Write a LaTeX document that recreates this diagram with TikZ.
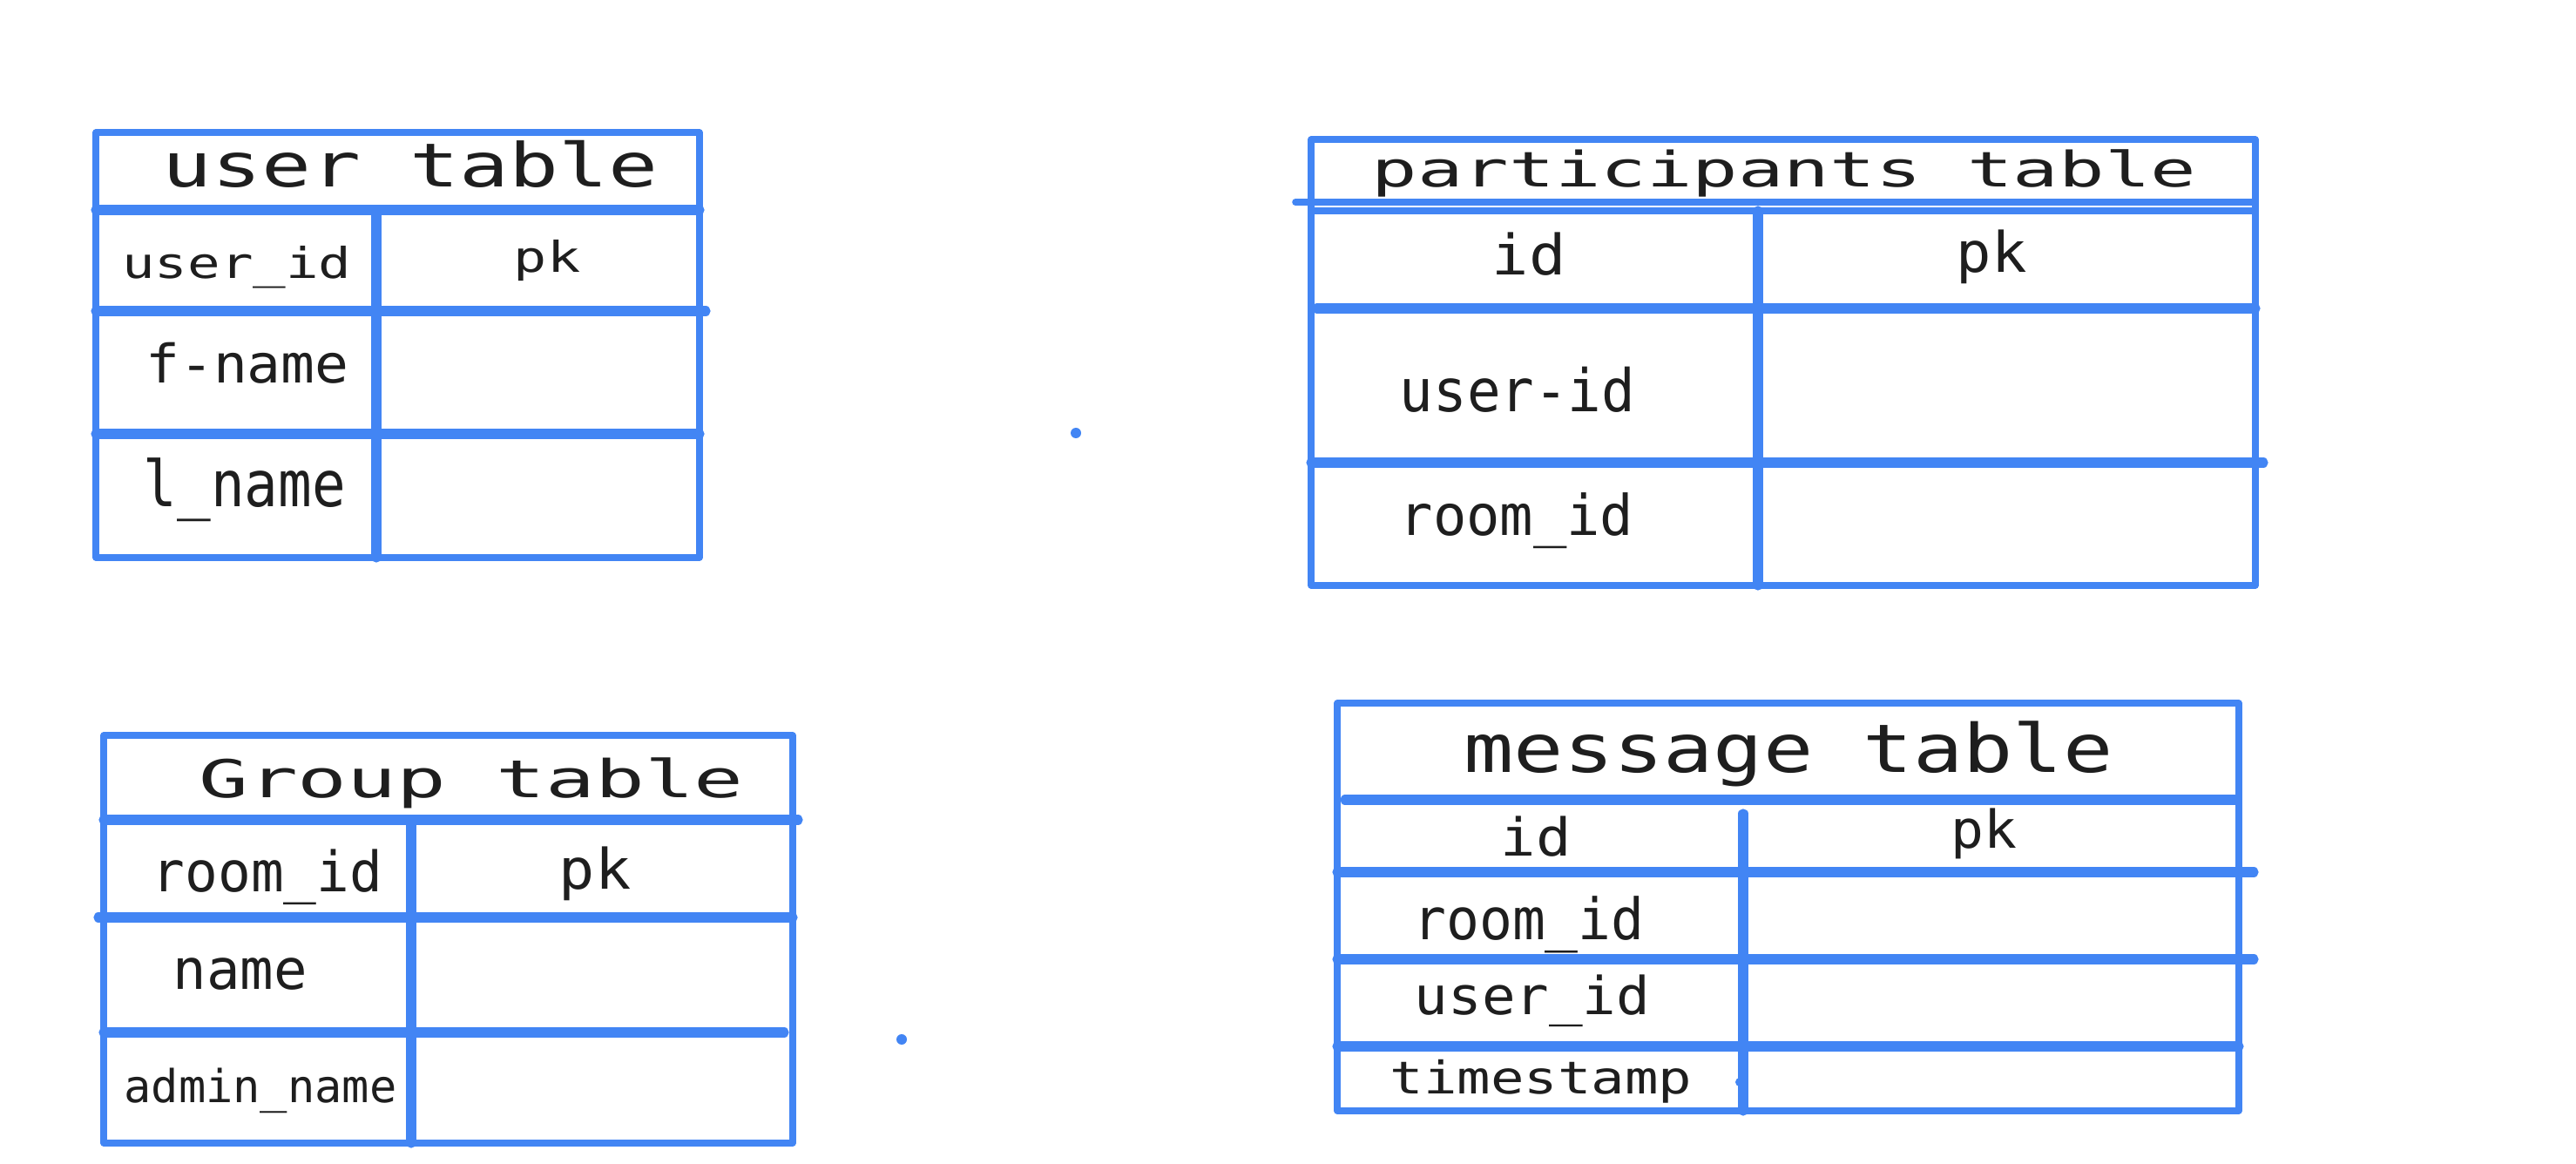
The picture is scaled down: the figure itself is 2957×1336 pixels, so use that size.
\documentclass[tikz,border=0pt]{standalone}
\usepackage{fontspec}
\usepackage{graphicx}
\newfontfamily\dvm{DejaVu Sans Mono}
\definecolor{gblue}{HTML}{4285F4}
\definecolor{inkc}{HTML}{1E1E1E}
\newcommand\mytxt[3]{\scalebox{#2}[1]{\fontsize{#1pt}{#1pt}\selectfont #3}}
\begin{document}
\begin{tikzpicture}[x=0.25pt,y=-0.25pt,
  border/.style={draw=gblue,line width=1.8pt,line join=round},
  divider/.style={draw=gblue,line width=2.8pt,line cap=round},
  thindiv/.style={draw=gblue,line width=1.9pt,line cap=round},
  lbl/.style={anchor=base,inner sep=0pt,text=inkc,font=\dvm},
  blob/.style={fill=gblue}]
\fill[white] (0,0) rectangle (2957,1336);
\useasboundingbox (0,0) rectangle (2957,1336);

% ---------- user table ----------
\draw[border] (110,152) rectangle (803,640);
\draw[divider] (110,241) -- (803,241);
\draw[divider] (110,357) -- (810,357);
\draw[divider] (110,498) -- (803,498);
\draw[divider] (432,241) -- (432,640);
\node[lbl] (ut)  at (471,215) {\mytxt{17.4}{1.36}{user table}};
\node[lbl] (uid) at (272,320) {\mytxt{12.2}{1.28}{user\_id}};
\node[lbl] (upk) at (628,313) {\mytxt{12.2}{1.3}{pk}};
\node[lbl] (ufn) at (284,440) {\mytxt{15.25}{1.06}{f-name}};
\node[lbl] (uln) at (281,582) {\mytxt{18.25}{0.88}{l\_name}};

% ---------- participants table ----------
\draw[border] (1505,160) rectangle (2589,672);
\draw[thindiv] (1487,232) -- (2589,232);
\draw[thindiv] (1505,242) -- (2589,242);
\draw[divider] (2018,242) -- (2018,672);
\draw[divider] (1512,354) -- (2589,354);
\draw[divider] (1505,531) -- (2598,531);
\node[lbl] (pt)  at (2048,215) {\mytxt{14}{1.56}{participants table}};
\node[lbl] (pid) at (1755,316) {\mytxt{16}{1.1}{id}};
\node[lbl] (ppk) at (2286,313) {\mytxt{16}{1.05}{pk}};
\node[lbl] (puid) at (1742,473) {\mytxt{16.9}{0.95}{user-id}};
\node[lbl] (prid) at (1741,614) {\mytxt{16.1}{0.99}{room\_id}};

% ---------- Group table ----------
\draw[border] (119,844) rectangle (910,1312);
\draw[divider] (119,941) -- (916,941);
\draw[divider] (113,1053) -- (910,1053);
\draw[divider] (119,1185) -- (900,1185);
\draw[divider] (472,941) -- (472,1312);
\node[lbl] (gt)  at (541,916) {\mytxt{14.95}{1.58}{Group table}};
\node[lbl] (grid) at (307,1023) {\mytxt{16}{0.98}{room\_id}};
\node[lbl] (gpk) at (683,1020) {\mytxt{16}{1.07}{pk}};
\node[lbl] (gnm) at (276,1135) {\mytxt{16}{1.0}{name}};
\node[lbl] (gan) at (299,1265) {\mytxt{13}{1.0}{admin\_name}};

% ---------- message table ----------
\draw[border] (1535,807) rectangle (2570,1275);
\draw[divider] (1544,918) -- (2566,918);
\draw[divider] (2001,934) -- (2001,1275);
\draw[divider] (1535,1001) -- (2587,1001);
\draw[divider] (1535,1101) -- (2587,1101);
\draw[divider] (1535,1201) -- (2570,1201);
\fill[blob] (1997,1242) circle (5);
\node[lbl] (mt)  at (2053,887) {\mytxt{19.2}{1.24}{message table}};
\node[lbl] (mid) at (1763,982) {\mytxt{15}{1.12}{id}};
\node[lbl] (mpk) at (2277,973) {\mytxt{15}{1.05}{pk}};
\node[lbl] (mrid) at (1755,1078) {\mytxt{16.4}{0.96}{room\_id}};
\node[lbl] (muid) at (1759,1164) {\mytxt{15}{1.07}{user\_id}};
\node[lbl] (mts) at (1769,1255) {\mytxt{12.9}{1.24}{timestamp}};

% ---------- stray dots ----------
\fill[blob] (1235,497) circle (6);
\fill[blob] (1035,1193) circle (6);
\end{tikzpicture}
\end{document}
